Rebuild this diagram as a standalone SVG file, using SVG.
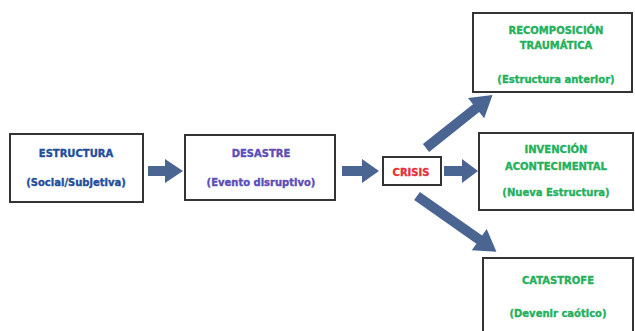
<svg xmlns="http://www.w3.org/2000/svg" width="635" height="331" viewBox="0 0 635 331">
<style>
.box{fill:#fff;stroke:#333;stroke-width:2}
.t{font-family:"DejaVu Sans",Verdana,sans-serif;font-weight:bold;font-size:10px;text-anchor:middle;stroke-width:0.35}
.blue{fill:#1f4e9b;stroke:#1f4e9b}
.purple{fill:#5a4eb8;stroke:#5a4eb8}
.green{fill:#25b05c;stroke:#25b05c}
.red{fill:#e5303a;stroke:#e5303a}
.arr{fill:#4a6592}
</style>
<rect width="635" height="331" fill="#fff"/>
<g id="connectors">
<path class="arr" transform="translate(148,171)" d="M0,-5 H17 V-12 L35,0 L17,12 V5 H0 Z"/>
<path class="arr" transform="translate(342,171)" d="M0,-5 H20 V-12 L37,0 L20,12 V5 H0 Z"/>
<path class="arr" transform="translate(444,171)" d="M0,-5 H18 V-12 L34,0 L18,12 V5 H0 Z"/>
<path class="arr" transform="translate(426,148) rotate(-38.5)" d="M0,-5 H64 V-13 L85,0 L64,13 V5 H0 Z"/>
<path class="arr" transform="translate(417,196) rotate(35)" d="M0,-5 H76 V-13 L97,0 L76,13 V5 H0 Z"/>
</g>
<g id="estructura">
<rect class="box" x="10" y="134" width="133" height="68"/>
<text class="t blue" x="76" y="157">ESTRUCTURA</text>
<text class="t blue" x="76" y="186">(Social/Subjetiva)</text>
</g>
<g id="desastre">
<rect class="box" x="185" y="135" width="150" height="65"/>
<text class="t purple" x="261" y="157">DESASTRE</text>
<text class="t purple" x="261" y="186">(Evento disruptivo)</text>
</g>
<g id="crisis">
<rect class="box" x="383" y="157" width="58" height="28"/>
<text class="t red" x="411" y="175.5">CRISIS</text>
</g>
<g id="recomposicion">
<rect class="box" x="473" y="13" width="159" height="79"/>
<text class="t green" x="556" y="33.5">RECOMPOSICIÓN</text>
<text class="t green" x="556" y="48.5">TRAUMÁTICA</text>
<text class="t green" x="556" y="82.5">(Estructura anterior)</text>
</g>
<g id="invencion">
<rect class="box" x="479" y="133" width="154" height="77"/>
<text class="t green" x="556" y="152.5">INVENCIÓN</text>
<text class="t green" x="556" y="169.5">ACONTECIMENTAL</text>
<text class="t green" x="556" y="195.5">(Nueva Estructura)</text>
</g>
<g id="catastrofe">
<rect class="box" x="483" y="258" width="150" height="85"/>
<text class="t green" x="558" y="283.5">CATASTROFE</text>
<text class="t green" x="558" y="316.5">(Devenir caótico)</text>
</g>
</svg>
